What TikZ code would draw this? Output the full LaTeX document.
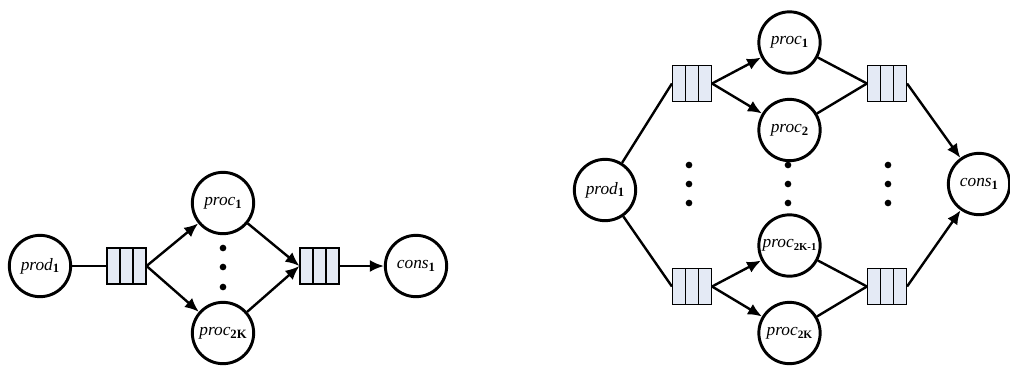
\documentclass[tikz,border=0pt]{standalone}
\usepackage{fontspec}
\setmainfont{Liberation Serif}
\usetikzlibrary{arrows.meta}
\definecolor{qfill}{HTML}{E4EAF5}
\newcommand{\lbl}[3][9.5]{\textit{#2}\raisebox{-0.35ex}{\fontsize{#1}{10}\selectfont\bfseries\upshape #3}}
\tikzset{
  proc/.style={draw, circle, line width=2.2pt, minimum size=46pt, inner sep=0pt,
    font=\fontsize{13}{14}\selectfont},
  queue/.style={draw, fill=qfill, line width=1.1pt, minimum width=29pt,
    minimum height=27pt, inner sep=0pt,
    path picture={
      \draw[line width=1.1pt]
        ([xshift=9.67pt]path picture bounding box.north west) --
        ([xshift=9.67pt]path picture bounding box.south west)
        ([xshift=-9.67pt]path picture bounding box.north east) --
        ([xshift=-9.67pt]path picture bounding box.south east);}},
  link/.style={line width=1.8pt},
  arr/.style={line width=1.8pt, -{Latex[length=10.5pt,width=9pt]}},
  dot/.style={fill, circle, inner sep=0pt, minimum size=5pt}
}
\begin{document}
\begin{tikzpicture}[x=0.75pt, y=-0.75pt]
\useasboundingbox (0,0) rectangle (1010,365);

% single-queue pipeline
\node[proc]  (prodL)  at (40,266)    {\lbl{prod}{1}};
\node[queue] (qL1)    at (126.5,266) {};
\node[proc]  (procL1) at (223,203)   {\lbl{proc}{1}};
\node[proc]  (procL2) at (223,333)   {\lbl{proc}{2K}};
\node[queue] (qL2)    at (319.5,266) {};
\node[proc]  (consL)  at (416,266)   {\lbl{cons}{1}};
\node[dot] (dl1) at (223,248) {};
\node[dot] (dl2) at (223,267) {};
\node[dot] (dl3) at (223,287) {};

\draw[link] (prodL) -- (qL1.west);
\draw[arr] (qL1.east) -- (procL1);
\draw[arr] (qL1.east) -- (procL2);
\draw[arr] (procL1) -- (qL2.west);
\draw[arr] (procL2) -- (qL2.west);
\draw[arr] (qL2.east) -- (consL);

% paired-queue pipeline
\node[proc]  (prodR)  at (605,190)   {\lbl{prod}{1}};
\node[queue] (qA)     at (692,83.5)  {};
\node[queue] (qB)     at (692,286.5) {};
\node[proc]  (procR1) at (789.5,42.5) {\lbl{proc}{1}};
\node[proc]  (procR2) at (789.5,130)  {\lbl{proc}{2}};
\node[proc]  (procR3) at (789.5,245.5) {\lbl[8]{proc}{2K-1}};
\node[proc]  (procR4) at (789.5,333)  {\lbl[8.5]{proc}{2K}};
\node[queue] (qC)     at (887,83.5)  {};
\node[queue] (qD)     at (887,286.5) {};
\node[proc]  (consR)  at (979,184)   {\lbl{cons}{1}};
\foreach \x/\n in {689/a,788/b,888/c}{
  \node[dot] (d\n1) at (\x,165) {};
  \node[dot] (d\n2) at (\x,184) {};
  \node[dot] (d\n3) at (\x,203) {};
}

\draw[link] (prodR) -- (qA.west);
\draw[link] (prodR) -- (qB.west);
\draw[arr] (qA.east) -- (procR1);
\draw[arr] (qA.east) -- (procR2);
\draw[arr] (qB.east) -- (procR3);
\draw[arr] (qB.east) -- (procR4);
\draw[link] (procR1) -- (qC.west);
\draw[link] (procR2) -- (qC.west);
\draw[link] (procR3) -- (qD.west);
\draw[link] (procR4) -- (qD.west);
\draw[arr] (qC.east) -- (consR);
\draw[arr] (qD.east) -- (consR);
\end{tikzpicture}
\end{document}
